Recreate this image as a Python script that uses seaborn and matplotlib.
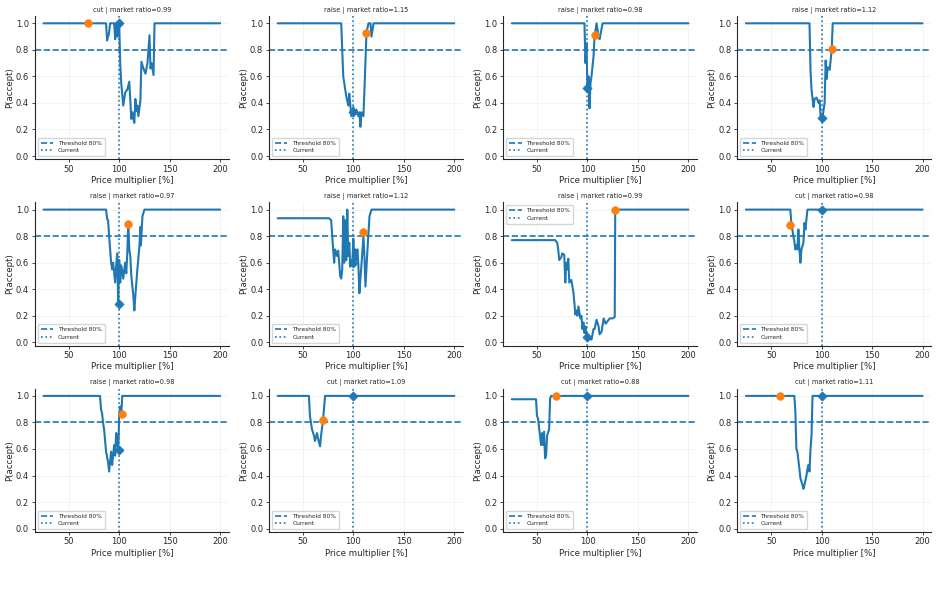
#!/usr/bin/env python3
"""
Acceptance curves per SKU: P(accept) over a price multiplier sweep
"""

import numpy as np
import pandas as pd
import matplotlib
matplotlib.use("Agg")
import matplotlib.pyplot as plt
import seaborn as sns

# panel titles (direction | market ratio)
TITLES = [
    "cut | market ratio=0.99", "raise | market ratio=1.15",
    "raise | market ratio=0.98", "raise | market ratio=1.12",
    "raise | market ratio=0.97", "raise | market ratio=1.12",
    "raise | market ratio=0.99", "cut | market ratio=0.98",
    "raise | market ratio=0.98", "cut | market ratio=1.09",
    "cut | market ratio=0.88", "cut | market ratio=1.11",
]

# curves (price multiplier %, P(accept))
X1 = [25, 87, 88, 90, 91, 95, 96, 97, 98, 99, 100, 101, 102, 104, 106, 108, 110, 111, 112, 113, 114, 115, 116, 117, 118, 119, 121, 122, 124, 126, 128, 130, 131, 132, 134, 135, 200]
Y1 = [1.0, 1.0, 0.87, 0.93, 1.0, 1.0, 0.88, 1.0, 0.9, 1.0, 1.0, 0.7, 0.55, 0.38, 0.48, 0.5, 0.56, 0.42, 0.28, 0.33, 0.28, 0.25, 0.43, 0.34, 0.38, 0.3, 0.42, 0.71, 0.66, 0.62, 0.7, 0.91, 0.66, 0.7, 0.61, 1.0, 1.0]

X2 = [25, 88, 90, 91, 93, 95, 96, 98, 100, 101, 103, 105, 106, 107, 108, 110, 111.5, 113, 115, 117, 118, 120, 200]
Y2 = [1.0, 1.0, 0.6, 0.55, 0.45, 0.38, 0.47, 0.3, 0.37, 0.32, 0.35, 0.3, 0.33, 0.22, 0.33, 0.3, 0.6, 0.93, 1.0, 1.0, 0.9, 1.0, 1.0]

X3 = [25, 97, 98, 99, 100, 101, 102, 103, 104, 106, 107, 109, 111, 112, 115, 200]
Y3 = [1.0, 1.0, 0.7, 0.85, 0.5, 0.6, 0.36, 0.55, 0.6, 0.75, 0.9, 1.0, 0.9, 0.88, 1.0, 1.0]

X4 = [25, 88, 89, 90, 92, 93, 95, 97, 98, 99, 100, 101, 103, 104, 105, 106, 108, 110, 111, 200]
Y4 = [1.0, 1.0, 0.65, 0.5, 0.37, 0.43, 0.44, 0.4, 0.42, 0.3, 0.28, 0.3, 0.4, 0.72, 0.58, 0.67, 0.65, 0.8, 1.0, 1.0]

X5 = [25, 87, 88, 89, 90, 92, 93, 94, 96, 97, 98, 99, 100, 101, 102, 104, 105, 106, 107, 108, 109, 110, 111, 112, 114, 115, 116, 118, 120, 121, 121.5, 123, 125, 200]
Y5 = [1.0, 1.0, 0.93, 0.92, 0.8, 0.6, 0.55, 0.6, 0.45, 0.58, 0.67, 0.3, 0.62, 0.45, 0.58, 0.48, 0.55, 0.6, 0.52, 0.67, 0.9, 0.7, 0.65, 0.5, 0.35, 0.24, 0.35, 0.55, 0.72, 0.87, 0.73, 0.95, 1.0, 1.0]

X6 = [25, 76, 78, 80, 81, 82, 84, 85, 87, 88, 89, 90, 91, 92, 93, 94, 95, 96, 97, 98, 99, 100, 101, 102, 103, 104, 105, 106, 107, 108, 110, 111, 112, 114, 116, 118, 200]
Y6 = [0.935, 0.935, 0.92, 0.7, 0.6, 0.7, 0.65, 0.69, 0.5, 0.48, 0.55, 0.95, 0.6, 0.92, 0.62, 1.0, 0.65, 0.75, 0.57, 0.62, 0.6, 0.78, 0.6, 0.7, 0.62, 0.7, 0.58, 0.37, 0.48, 0.58, 0.8, 0.65, 0.42, 0.7, 0.95, 1.0, 1.0]

X7 = [25, 68, 70, 71, 72, 74, 75, 77, 78, 79, 80, 81, 82, 84, 86, 87, 88, 89, 90, 91, 93, 94, 95, 96, 97, 98, 99, 100, 101, 104, 106, 107, 109, 111, 112, 114, 116, 118, 120, 122, 125, 127, 127.5, 200]
Y7 = [0.77, 0.77, 0.75, 0.7, 0.62, 0.64, 0.67, 0.66, 0.45, 0.6, 0.55, 0.63, 0.45, 0.47, 0.38, 0.3, 0.21, 0.24, 0.2, 0.27, 0.18, 0.2, 0.1, 0.15, 0.07, 0.12, 0.04, 0.05, 0.03, 0.02, 0.1, 0.1, 0.17, 0.12, 0.06, 0.08, 0.18, 0.14, 0.16, 0.18, 0.18, 0.19, 1.0, 1.0]

X8 = [25, 69, 70, 72, 73, 74, 75, 76, 77, 78, 79, 80, 82, 83, 84, 85, 86, 200]
Y8 = [1.0, 1.0, 0.9, 0.8, 0.76, 0.7, 0.73, 0.7, 0.85, 0.7, 0.6, 0.7, 0.75, 0.9, 0.85, 0.93, 1.0, 1.0]

X9 = [25, 81, 82, 83, 84, 85, 87, 89, 90, 92, 93, 94, 95, 96, 97, 98, 99, 100, 101, 102, 103, 200]
Y9 = [1.0, 1.0, 0.9, 0.87, 0.8, 0.75, 0.58, 0.5, 0.43, 0.58, 0.48, 0.55, 0.63, 0.55, 0.72, 0.65, 0.6, 0.85, 0.92, 0.85, 1.0, 1.0]

X10 = [25, 56, 57, 58, 59, 61, 62, 64, 65, 67, 68, 70, 72, 200]
Y10 = [1.0, 1.0, 0.85, 0.8, 0.75, 0.7, 0.66, 0.72, 0.68, 0.62, 0.7, 0.82, 1.0, 1.0]

X11 = [25, 49, 50, 51, 53, 54, 55, 56, 57, 58, 59, 60, 62, 63, 64, 200]
Y11 = [0.975, 0.975, 0.85, 0.83, 0.7, 0.63, 0.72, 0.63, 0.73, 0.53, 0.55, 0.7, 0.75, 0.98, 1.0, 1.0]

X12 = [25, 73, 74, 75, 76, 78, 79, 81, 82, 83, 85, 86, 87, 88, 89, 90, 91, 200]
Y12 = [1.0, 1.0, 0.88, 0.6, 0.58, 0.45, 0.38, 0.33, 0.3, 0.33, 0.4, 0.45, 0.48, 0.43, 0.6, 0.7, 1.0, 1.0]

# recommended point (orange) and current point (blue diamond)
BEST_X = [69, 113, 107, 110, 109, 110, 127.5, 69, 103, 70, 69, 59]
BEST_Y = [1.0, 0.925, 0.915, 0.81, 0.895, 0.835, 1.0, 0.885, 0.86, 0.815, 1.0, 1.0]
CURRENT_X = [100] * 12
CURRENT_Y = [1.0, 0.33, 0.51, 0.285, 0.285, 0.6, 0.04, 1.0, 0.595, 1.0, 1.0, 1.0]

LEGEND_LOC = ["lower left"] * 6 + ["upper left"] + ["lower left"] * 5

THRESHOLD = 0.8
CURVES = [(X1, Y1), (X2, Y2), (X3, Y3), (X4, Y4), (X5, Y5), (X6, Y6),
          (X7, Y7), (X8, Y8), (X9, Y9), (X10, Y10), (X11, Y11), (X12, Y12)]


def main():
    sns.set_theme(style="ticks")
    plt.rcParams['font.family'] = ['DejaVu Sans']

    blue = '#1f77b4'
    orange = '#ff7f0e'

    fig, axes = plt.subplots(3, 4, figsize=(9.37, 5.93), dpi=100)
    fig.subplots_adjust(left=0.037, right=0.994, top=0.973, bottom=0.103,
                        wspace=0.205, hspace=0.30)

    for i, ax in enumerate(axes.flat):
        xs, ys = CURVES[i]
        df = pd.DataFrame({'mult': xs, 'p': ys})
        sns.lineplot(data=df, x='mult', y='p', ax=ax, color=blue,
                     linewidth=1.5, estimator=None, sort=False)

        th = ax.axhline(THRESHOLD, color=blue, linestyle='--', linewidth=1.2,
                        label='Threshold 80%')
        cur = ax.axvline(100, color=blue, linestyle=':', linewidth=1.2,
                         label='Current')

        sns.scatterplot(x=[CURRENT_X[i]], y=[CURRENT_Y[i]], ax=ax, marker='D',
                        color=blue, s=22, edgecolor=blue, linewidth=0.5, zorder=5)
        sns.scatterplot(x=[BEST_X[i]], y=[BEST_Y[i]], ax=ax, marker='o',
                        color=orange, s=30, edgecolor=orange, linewidth=0.5, zorder=6)

        ax.set_ylim(-0.025, 1.055)
        ax.set_xticks([50, 100, 150, 200])
        ax.set_yticks([0.0, 0.2, 0.4, 0.6, 0.8, 1.0])
        ax.tick_params(labelsize=6, length=2.5, width=0.6, pad=1.5)
        ax.set_xlabel('Price multiplier [%]', fontsize=6.2, labelpad=1.5)
        ax.set_ylabel('P(accept)', fontsize=6.2, labelpad=1.5)
        ax.set_title(TITLES[i], fontsize=4.8, pad=3)
        ax.grid(alpha=0.25, linewidth=0.6)
        for sp in ['left', 'bottom']:
            ax.spines[sp].set_linewidth(0.8)
            ax.spines[sp].set_color('#262626')
        sns.despine(ax=ax)

        ax.legend(handles=[th, cur], loc=LEGEND_LOC[i], fontsize=4.2,
                  frameon=True, handlelength=2.2, borderpad=0.5,
                  labelspacing=0.4, framealpha=0.8)

    # caption below the grid (mostly clipped off the canvas, as in the source)
    fig.text(0.168, -0.024, '(sweep curves)', fontsize=7, ha='center', va='bottom')

    plt.savefig('out.png', dpi=100)
    plt.close()


if __name__ == "__main__":
    main()
